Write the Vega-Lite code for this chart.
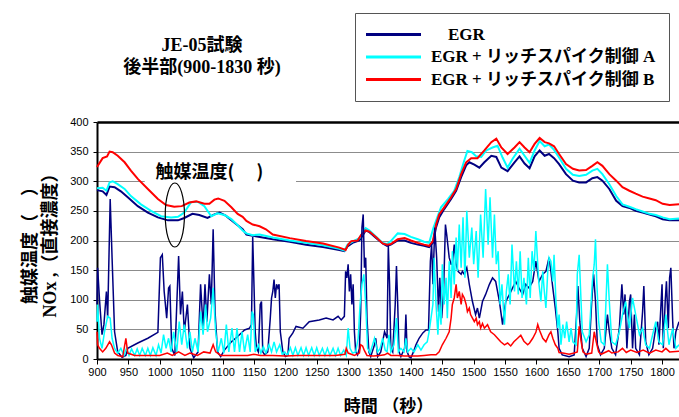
{
"$schema": "https://vega.github.io/schema/vega-lite/v6.json",
"width": 582, "height": 237,
"autosize": "none",
"padding": {"left": 97, "top": 122, "right": 0, "bottom": 58},
"background": "white",
"config": {"view": {"stroke": null}, "font": "Liberation Sans"},
"title": {"text": ["JE-05試験", "後半部(900-1830 秒)"], "anchor": "middle", "dx": -186, "offset": -64, "frame": "group", "font": "Liberation Serif, 'Noto Sans CJK JP'", "fontSize": 18, "fontWeight": "bold", "lineHeight": 22, "color": "black"},
"datasets": {
"noteText": [{"t": 1079, "v": 314, "label": "触媒温度(　 )"}],
"noteEllipse": [{"t": 1024, "v": 243}],
"noteGap": [{"t": 976, "t2": 1217, "v": 296, "v2": 330}],
"egrT": [{"t":900,"v":285},{"t":909,"v":283},{"t":915,"v":277},{"t":920,"v":291},{"t":928,"v":290},{"t":938,"v":283},{"t":949,"v":273},{"t":965,"v":258},{"t":981,"v":247},{"t":997,"v":239},{"t":1013,"v":234},{"t":1029,"v":234},{"t":1039,"v":238},{"t":1052,"v":245},{"t":1063,"v":243},{"t":1076,"v":238},{"t":1087,"v":244},{"t":1095,"v":247},{"t":1105,"v":242},{"t":1119,"v":230},{"t":1132,"v":219},{"t":1138,"v":210},{"t":1148,"v":208},{"t":1180,"v":202},{"t":1207,"v":198},{"t":1233,"v":193},{"t":1260,"v":189},{"t":1286,"v":184},{"t":1294,"v":182},{"t":1299,"v":190},{"t":1307,"v":196},{"t":1318,"v":200},{"t":1328,"v":217},{"t":1334,"v":214},{"t":1345,"v":204},{"t":1355,"v":195},{"t":1362,"v":191},{"t":1368,"v":193},{"t":1379,"v":200},{"t":1390,"v":200},{"t":1400,"v":196},{"t":1411,"v":193},{"t":1421,"v":191},{"t":1429,"v":189},{"t":1435,"v":196},{"t":1440,"v":222},{"t":1445,"v":239},{"t":1453,"v":253},{"t":1464,"v":270},{"t":1472,"v":284},{"t":1480,"v":307},{"t":1488,"v":327},{"t":1493,"v":332},{"t":1501,"v":328},{"t":1509,"v":323},{"t":1517,"v":332},{"t":1528,"v":343},{"t":1536,"v":341},{"t":1544,"v":323},{"t":1554,"v":317},{"t":1565,"v":332},{"t":1573,"v":342},{"t":1581,"v":330},{"t":1589,"v":322},{"t":1597,"v":342},{"t":1605,"v":352},{"t":1613,"v":343},{"t":1620,"v":346},{"t":1628,"v":339},{"t":1636,"v":329},{"t":1647,"v":312},{"t":1658,"v":301},{"t":1668,"v":298},{"t":1679,"v":298},{"t":1689,"v":305},{"t":1697,"v":307},{"t":1705,"v":301},{"t":1716,"v":287},{"t":1727,"v":267},{"t":1737,"v":258},{"t":1748,"v":255},{"t":1758,"v":250},{"t":1769,"v":247},{"t":1780,"v":244},{"t":1790,"v":241},{"t":1801,"v":236},{"t":1812,"v":234},{"t":1827,"v":234}],
"aT": [{"t":900,"v":288},{"t":909,"v":289},{"t":915,"v":284},{"t":920,"v":298},{"t":925,"v":300},{"t":933,"v":295},{"t":944,"v":287},{"t":954,"v":275},{"t":970,"v":261},{"t":986,"v":250},{"t":1002,"v":241},{"t":1018,"v":239},{"t":1029,"v":240},{"t":1039,"v":247},{"t":1050,"v":265},{"t":1061,"v":265},{"t":1071,"v":258},{"t":1082,"v":241},{"t":1092,"v":246},{"t":1103,"v":243},{"t":1114,"v":236},{"t":1124,"v":226},{"t":1132,"v":217},{"t":1138,"v":212},{"t":1148,"v":209},{"t":1159,"v":210},{"t":1180,"v":205},{"t":1207,"v":200},{"t":1233,"v":196},{"t":1260,"v":192},{"t":1286,"v":186},{"t":1294,"v":183},{"t":1299,"v":193},{"t":1307,"v":198},{"t":1318,"v":204},{"t":1328,"v":221},{"t":1334,"v":217},{"t":1345,"v":206},{"t":1355,"v":196},{"t":1362,"v":194},{"t":1368,"v":199},{"t":1379,"v":212},{"t":1390,"v":211},{"t":1400,"v":206},{"t":1411,"v":202},{"t":1421,"v":198},{"t":1429,"v":196},{"t":1436,"v":222},{"t":1442,"v":239},{"t":1448,"v":256},{"t":1459,"v":270},{"t":1469,"v":284},{"t":1477,"v":307},{"t":1485,"v":335},{"t":1490,"v":351},{"t":1497,"v":349},{"t":1504,"v":342},{"t":1512,"v":341},{"t":1520,"v":352},{"t":1530,"v":357},{"t":1538,"v":360},{"t":1546,"v":340},{"t":1554,"v":323},{"t":1562,"v":338},{"t":1573,"v":355},{"t":1581,"v":343},{"t":1589,"v":331},{"t":1597,"v":352},{"t":1605,"v":368},{"t":1613,"v":359},{"t":1620,"v":362},{"t":1628,"v":353},{"t":1636,"v":340},{"t":1647,"v":321},{"t":1658,"v":311},{"t":1668,"v":309},{"t":1679,"v":311},{"t":1689,"v":318},{"t":1697,"v":321},{"t":1705,"v":312},{"t":1716,"v":295},{"t":1727,"v":275},{"t":1737,"v":261},{"t":1748,"v":257},{"t":1758,"v":253},{"t":1769,"v":249},{"t":1780,"v":245},{"t":1790,"v":243},{"t":1801,"v":239},{"t":1812,"v":236},{"t":1827,"v":237}],
"bT": [{"t":900,"v":324},{"t":909,"v":339},{"t":916,"v":342},{"t":920,"v":350},{"t":925,"v":349},{"t":933,"v":343},{"t":944,"v":332},{"t":954,"v":318},{"t":965,"v":304},{"t":981,"v":287},{"t":997,"v":270},{"t":1010,"v":260},{"t":1023,"v":257},{"t":1035,"v":258},{"t":1047,"v":264},{"t":1058,"v":266},{"t":1071,"v":262},{"t":1079,"v":262},{"t":1087,"v":269},{"t":1093,"v":271},{"t":1103,"v":267},{"t":1114,"v":256},{"t":1124,"v":245},{"t":1132,"v":240},{"t":1138,"v":233},{"t":1148,"v":227},{"t":1159,"v":224},{"t":1169,"v":219},{"t":1180,"v":210},{"t":1207,"v":204},{"t":1233,"v":199},{"t":1260,"v":195},{"t":1286,"v":188},{"t":1296,"v":184},{"t":1300,"v":193},{"t":1305,"v":199},{"t":1315,"v":200},{"t":1321,"v":210},{"t":1328,"v":217},{"t":1334,"v":215},{"t":1345,"v":205},{"t":1355,"v":195},{"t":1362,"v":193},{"t":1368,"v":194},{"t":1379,"v":202},{"t":1390,"v":204},{"t":1400,"v":200},{"t":1411,"v":196},{"t":1421,"v":193},{"t":1429,"v":191},{"t":1435,"v":199},{"t":1440,"v":227},{"t":1445,"v":244},{"t":1453,"v":256},{"t":1464,"v":273},{"t":1472,"v":287},{"t":1480,"v":312},{"t":1488,"v":332},{"t":1496,"v":339},{"t":1506,"v":339},{"t":1517,"v":352},{"t":1528,"v":366},{"t":1536,"v":372},{"t":1544,"v":357},{"t":1554,"v":346},{"t":1565,"v":357},{"t":1573,"v":366},{"t":1581,"v":357},{"t":1589,"v":349},{"t":1597,"v":363},{"t":1605,"v":373},{"t":1613,"v":366},{"t":1620,"v":364},{"t":1628,"v":359},{"t":1636,"v":346},{"t":1647,"v":329},{"t":1658,"v":321},{"t":1668,"v":318},{"t":1679,"v":319},{"t":1689,"v":326},{"t":1697,"v":332},{"t":1705,"v":326},{"t":1716,"v":312},{"t":1727,"v":301},{"t":1737,"v":290},{"t":1748,"v":284},{"t":1758,"v":279},{"t":1769,"v":274},{"t":1780,"v":271},{"t":1790,"v":268},{"t":1801,"v":262},{"t":1812,"v":260},{"t":1827,"v":261}],
"egrN": [{"t":900,"v":92},{"t":901,"v":154},{"t":904,"v":100},{"t":908,"v":41},{"t":911,"v":58},{"t":915,"v":114},{"t":917,"v":69},{"t":921,"v":270},{"t":924,"v":171},{"t":928,"v":46},{"t":933,"v":12},{"t":940,"v":3},{"t":946,"v":6},{"t":949,"v":18},{"t":965,"v":27},{"t":981,"v":35},{"t":997,"v":45},{"t":1001,"v":171},{"t":1004,"v":176},{"t":1007,"v":114},{"t":1011,"v":69},{"t":1014,"v":120},{"t":1016,"v":123},{"t":1019,"v":18},{"t":1024,"v":6},{"t":1030,"v":174},{"t":1033,"v":75},{"t":1036,"v":114},{"t":1039,"v":46},{"t":1044,"v":92},{"t":1048,"v":18},{"t":1054,"v":2},{"t":1061,"v":12},{"t":1065,"v":126},{"t":1069,"v":52},{"t":1072,"v":126},{"t":1075,"v":63},{"t":1079,"v":143},{"t":1082,"v":92},{"t":1085,"v":219},{"t":1088,"v":80},{"t":1092,"v":12},{"t":1097,"v":4},{"t":1103,"v":15},{"t":1114,"v":29},{"t":1124,"v":38},{"t":1132,"v":46},{"t":1135,"v":49},{"t":1143,"v":52},{"t":1146,"v":58},{"t":1148,"v":206},{"t":1150,"v":126},{"t":1152,"v":46},{"t":1154,"v":18},{"t":1157,"v":12},{"t":1160,"v":92},{"t":1162,"v":97},{"t":1164,"v":12},{"t":1167,"v":7},{"t":1172,"v":12},{"t":1176,"v":69},{"t":1178,"v":103},{"t":1180,"v":114},{"t":1182,"v":134},{"t":1184,"v":103},{"t":1186,"v":126},{"t":1188,"v":120},{"t":1190,"v":126},{"t":1192,"v":46},{"t":1196,"v":12},{"t":1200,"v":4},{"t":1204,"v":6},{"t":1206,"v":35},{"t":1212,"v":44},{"t":1217,"v":55},{"t":1228,"v":52},{"t":1238,"v":63},{"t":1254,"v":66},{"t":1265,"v":69},{"t":1276,"v":66},{"t":1284,"v":72},{"t":1289,"v":66},{"t":1294,"v":72},{"t":1296,"v":148},{"t":1298,"v":137},{"t":1300,"v":160},{"t":1302,"v":114},{"t":1304,"v":143},{"t":1306,"v":92},{"t":1308,"v":126},{"t":1310,"v":46},{"t":1312,"v":12},{"t":1315,"v":7},{"t":1318,"v":18},{"t":1320,"v":80},{"t":1322,"v":222},{"t":1324,"v":244},{"t":1326,"v":154},{"t":1328,"v":171},{"t":1330,"v":69},{"t":1333,"v":12},{"t":1336,"v":4},{"t":1342,"v":24},{"t":1344,"v":35},{"t":1347,"v":4},{"t":1352,"v":12},{"t":1356,"v":35},{"t":1358,"v":46},{"t":1362,"v":35},{"t":1364,"v":191},{"t":1366,"v":126},{"t":1368,"v":18},{"t":1371,"v":12},{"t":1375,"v":92},{"t":1377,"v":157},{"t":1379,"v":92},{"t":1381,"v":12},{"t":1384,"v":4},{"t":1390,"v":18},{"t":1392,"v":75},{"t":1394,"v":12},{"t":1397,"v":4},{"t":1400,"v":2},{"t":1404,"v":12},{"t":1408,"v":24},{"t":1413,"v":35},{"t":1419,"v":44},{"t":1424,"v":49},{"t":1428,"v":49},{"t":1431,"v":165},{"t":1433,"v":193},{"t":1435,"v":126},{"t":1438,"v":222},{"t":1441,"v":171},{"t":1444,"v":80},{"t":1446,"v":137},{"t":1449,"v":69},{"t":1452,"v":114},{"t":1455,"v":227},{"t":1457,"v":210},{"t":1461,"v":171},{"t":1464,"v":160},{"t":1466,"v":160},{"t":1469,"v":193},{"t":1472,"v":160},{"t":1475,"v":148},{"t":1480,"v":143},{"t":1482,"v":148},{"t":1485,"v":143},{"t":1489,"v":154},{"t":1493,"v":126},{"t":1498,"v":97},{"t":1503,"v":75},{"t":1506,"v":86},{"t":1509,"v":69},{"t":1514,"v":97},{"t":1519,"v":109},{"t":1525,"v":126},{"t":1530,"v":137},{"t":1535,"v":131},{"t":1541,"v":97},{"t":1546,"v":58},{"t":1551,"v":97},{"t":1557,"v":109},{"t":1562,"v":120},{"t":1567,"v":131},{"t":1572,"v":120},{"t":1578,"v":109},{"t":1583,"v":126},{"t":1588,"v":120},{"t":1594,"v":131},{"t":1599,"v":165},{"t":1604,"v":131},{"t":1610,"v":143},{"t":1615,"v":148},{"t":1620,"v":171},{"t":1623,"v":148},{"t":1626,"v":120},{"t":1630,"v":86},{"t":1634,"v":46},{"t":1636,"v":18},{"t":1641,"v":7},{"t":1652,"v":4},{"t":1660,"v":7},{"t":1664,"v":75},{"t":1666,"v":123},{"t":1669,"v":63},{"t":1673,"v":18},{"t":1679,"v":4},{"t":1684,"v":18},{"t":1688,"v":97},{"t":1691,"v":143},{"t":1694,"v":97},{"t":1697,"v":24},{"t":1702,"v":7},{"t":1708,"v":18},{"t":1713,"v":75},{"t":1716,"v":46},{"t":1720,"v":18},{"t":1726,"v":7},{"t":1732,"v":52},{"t":1736,"v":126},{"t":1739,"v":75},{"t":1741,"v":109},{"t":1744,"v":18},{"t":1748,"v":97},{"t":1750,"v":109},{"t":1753,"v":18},{"t":1756,"v":75},{"t":1758,"v":18},{"t":1764,"v":7},{"t":1769,"v":80},{"t":1771,"v":123},{"t":1774,"v":29},{"t":1779,"v":7},{"t":1785,"v":18},{"t":1790,"v":52},{"t":1793,"v":63},{"t":1795,"v":24},{"t":1800,"v":126},{"t":1802,"v":18},{"t":1805,"v":97},{"t":1807,"v":131},{"t":1810,"v":52},{"t":1812,"v":137},{"t":1814,"v":154},{"t":1817,"v":63},{"t":1819,"v":18},{"t":1822,"v":46},{"t":1827,"v":63}],
"aN": [{"t":900,"v":63},{"t":901,"v":92},{"t":904,"v":35},{"t":908,"v":18},{"t":912,"v":46},{"t":917,"v":72},{"t":921,"v":69},{"t":924,"v":35},{"t":928,"v":18},{"t":933,"v":10},{"t":938,"v":18},{"t":943,"v":6},{"t":947,"v":18},{"t":951,"v":6},{"t":955,"v":17},{"t":960,"v":6},{"t":964,"v":17},{"t":968,"v":6},{"t":972,"v":18},{"t":977,"v":6},{"t":981,"v":18},{"t":985,"v":6},{"t":989,"v":19},{"t":994,"v":6},{"t":998,"v":24},{"t":1002,"v":10},{"t":1006,"v":41},{"t":1010,"v":18},{"t":1014,"v":35},{"t":1018,"v":12},{"t":1022,"v":46},{"t":1027,"v":12},{"t":1031,"v":63},{"t":1035,"v":24},{"t":1039,"v":58},{"t":1044,"v":18},{"t":1048,"v":46},{"t":1052,"v":12},{"t":1056,"v":35},{"t":1061,"v":12},{"t":1065,"v":80},{"t":1069,"v":41},{"t":1073,"v":92},{"t":1076,"v":46},{"t":1081,"v":69},{"t":1085,"v":120},{"t":1089,"v":46},{"t":1093,"v":12},{"t":1098,"v":35},{"t":1102,"v":10},{"t":1106,"v":58},{"t":1110,"v":12},{"t":1115,"v":52},{"t":1119,"v":12},{"t":1123,"v":52},{"t":1127,"v":12},{"t":1131,"v":46},{"t":1135,"v":12},{"t":1140,"v":41},{"t":1144,"v":12},{"t":1147,"v":80},{"t":1149,"v":75},{"t":1152,"v":12},{"t":1157,"v":24},{"t":1161,"v":10},{"t":1165,"v":21},{"t":1169,"v":10},{"t":1174,"v":24},{"t":1178,"v":12},{"t":1182,"v":29},{"t":1186,"v":12},{"t":1191,"v":24},{"t":1195,"v":8},{"t":1199,"v":12},{"t":1203,"v":6},{"t":1208,"v":19},{"t":1212,"v":6},{"t":1216,"v":19},{"t":1220,"v":6},{"t":1225,"v":19},{"t":1229,"v":6},{"t":1233,"v":19},{"t":1237,"v":6},{"t":1242,"v":19},{"t":1246,"v":6},{"t":1250,"v":19},{"t":1254,"v":6},{"t":1259,"v":18},{"t":1263,"v":6},{"t":1267,"v":18},{"t":1271,"v":6},{"t":1276,"v":18},{"t":1280,"v":6},{"t":1284,"v":18},{"t":1288,"v":6},{"t":1293,"v":15},{"t":1297,"v":6},{"t":1300,"v":52},{"t":1303,"v":18},{"t":1307,"v":10},{"t":1312,"v":12},{"t":1316,"v":35},{"t":1319,"v":92},{"t":1322,"v":126},{"t":1325,"v":143},{"t":1328,"v":92},{"t":1331,"v":18},{"t":1335,"v":10},{"t":1339,"v":24},{"t":1342,"v":35},{"t":1347,"v":12},{"t":1351,"v":18},{"t":1355,"v":35},{"t":1359,"v":15},{"t":1362,"v":12},{"t":1365,"v":41},{"t":1368,"v":12},{"t":1373,"v":24},{"t":1377,"v":69},{"t":1380,"v":12},{"t":1384,"v":18},{"t":1389,"v":12},{"t":1392,"v":35},{"t":1395,"v":12},{"t":1400,"v":18},{"t":1405,"v":12},{"t":1411,"v":24},{"t":1416,"v":15},{"t":1421,"v":24},{"t":1426,"v":29},{"t":1429,"v":46},{"t":1432,"v":69},{"t":1435,"v":92},{"t":1437,"v":171},{"t":1440,"v":92},{"t":1443,"v":41},{"t":1445,"v":92},{"t":1448,"v":58},{"t":1450,"v":160},{"t":1453,"v":92},{"t":1456,"v":137},{"t":1458,"v":69},{"t":1461,"v":165},{"t":1464,"v":103},{"t":1466,"v":182},{"t":1469,"v":126},{"t":1472,"v":205},{"t":1474,"v":148},{"t":1477,"v":227},{"t":1480,"v":154},{"t":1483,"v":239},{"t":1486,"v":137},{"t":1489,"v":250},{"t":1493,"v":171},{"t":1497,"v":222},{"t":1500,"v":160},{"t":1504,"v":216},{"t":1507,"v":137},{"t":1511,"v":244},{"t":1515,"v":171},{"t":1519,"v":287},{"t":1523,"v":193},{"t":1526,"v":273},{"t":1530,"v":171},{"t":1533,"v":244},{"t":1536,"v":160},{"t":1539,"v":182},{"t":1542,"v":92},{"t":1545,"v":126},{"t":1549,"v":58},{"t":1552,"v":114},{"t":1555,"v":143},{"t":1558,"v":92},{"t":1561,"v":193},{"t":1565,"v":114},{"t":1568,"v":165},{"t":1571,"v":109},{"t":1574,"v":182},{"t":1577,"v":103},{"t":1580,"v":137},{"t":1584,"v":92},{"t":1587,"v":171},{"t":1590,"v":103},{"t":1593,"v":182},{"t":1596,"v":148},{"t":1599,"v":216},{"t":1602,"v":160},{"t":1604,"v":126},{"t":1607,"v":97},{"t":1610,"v":148},{"t":1612,"v":120},{"t":1615,"v":86},{"t":1618,"v":148},{"t":1620,"v":171},{"t":1623,"v":165},{"t":1626,"v":131},{"t":1628,"v":176},{"t":1631,"v":97},{"t":1634,"v":52},{"t":1636,"v":75},{"t":1639,"v":24},{"t":1642,"v":58},{"t":1645,"v":35},{"t":1648,"v":63},{"t":1652,"v":29},{"t":1655,"v":52},{"t":1658,"v":29},{"t":1663,"v":24},{"t":1665,"v":143},{"t":1668,"v":176},{"t":1671,"v":97},{"t":1673,"v":46},{"t":1679,"v":29},{"t":1684,"v":41},{"t":1689,"v":131},{"t":1692,"v":160},{"t":1694,"v":202},{"t":1696,"v":131},{"t":1699,"v":63},{"t":1703,"v":29},{"t":1708,"v":24},{"t":1713,"v":160},{"t":1716,"v":97},{"t":1720,"v":29},{"t":1726,"v":24},{"t":1732,"v":46},{"t":1737,"v":75},{"t":1742,"v":97},{"t":1748,"v":52},{"t":1753,"v":103},{"t":1758,"v":75},{"t":1764,"v":41},{"t":1769,"v":52},{"t":1774,"v":24},{"t":1780,"v":18},{"t":1785,"v":41},{"t":1790,"v":63},{"t":1795,"v":29},{"t":1801,"v":24},{"t":1806,"v":75},{"t":1811,"v":24},{"t":1817,"v":52},{"t":1822,"v":18},{"t":1827,"v":24}],
"bN": [{"t":900,"v":46},{"t":901,"v":24},{"t":904,"v":18},{"t":909,"v":12},{"t":914,"v":18},{"t":920,"v":29},{"t":923,"v":24},{"t":928,"v":10},{"t":933,"v":6},{"t":941,"v":4},{"t":946,"v":35},{"t":949,"v":10},{"t":960,"v":6},{"t":980,"v":6},{"t":1000,"v":6},{"t":1012,"v":10},{"t":1020,"v":6},{"t":1030,"v":12},{"t":1040,"v":6},{"t":1048,"v":10},{"t":1060,"v":6},{"t":1070,"v":12},{"t":1080,"v":10},{"t":1085,"v":24},{"t":1089,"v":12},{"t":1097,"v":6},{"t":1110,"v":6},{"t":1125,"v":6},{"t":1140,"v":6},{"t":1150,"v":8},{"t":1160,"v":6},{"t":1180,"v":6},{"t":1200,"v":5},{"t":1220,"v":6},{"t":1240,"v":6},{"t":1260,"v":6},{"t":1280,"v":6},{"t":1295,"v":8},{"t":1297,"v":18},{"t":1300,"v":10},{"t":1310,"v":6},{"t":1318,"v":10},{"t":1320,"v":24},{"t":1323,"v":22},{"t":1326,"v":14},{"t":1330,"v":6},{"t":1340,"v":5},{"t":1350,"v":6},{"t":1358,"v":7},{"t":1363,"v":10},{"t":1368,"v":6},{"t":1379,"v":6},{"t":1390,"v":5},{"t":1400,"v":5},{"t":1411,"v":5},{"t":1421,"v":6},{"t":1432,"v":7},{"t":1440,"v":7},{"t":1445,"v":12},{"t":1450,"v":24},{"t":1456,"v":35},{"t":1461,"v":46},{"t":1464,"v":69},{"t":1466,"v":92},{"t":1469,"v":103},{"t":1472,"v":126},{"t":1474,"v":103},{"t":1477,"v":114},{"t":1480,"v":92},{"t":1482,"v":109},{"t":1485,"v":103},{"t":1488,"v":92},{"t":1490,"v":80},{"t":1493,"v":86},{"t":1495,"v":75},{"t":1498,"v":69},{"t":1501,"v":63},{"t":1504,"v":69},{"t":1506,"v":58},{"t":1509,"v":63},{"t":1511,"v":52},{"t":1514,"v":60},{"t":1517,"v":52},{"t":1522,"v":58},{"t":1527,"v":46},{"t":1533,"v":41},{"t":1538,"v":35},{"t":1543,"v":29},{"t":1549,"v":24},{"t":1554,"v":27},{"t":1559,"v":22},{"t":1564,"v":29},{"t":1570,"v":35},{"t":1575,"v":40},{"t":1580,"v":30},{"t":1586,"v":24},{"t":1589,"v":27},{"t":1594,"v":35},{"t":1599,"v":45},{"t":1602,"v":58},{"t":1605,"v":48},{"t":1610,"v":35},{"t":1615,"v":29},{"t":1620,"v":41},{"t":1623,"v":46},{"t":1626,"v":35},{"t":1630,"v":24},{"t":1634,"v":18},{"t":1636,"v":11},{"t":1642,"v":10},{"t":1652,"v":8},{"t":1660,"v":10},{"t":1665,"v":12},{"t":1668,"v":55},{"t":1671,"v":30},{"t":1674,"v":12},{"t":1679,"v":8},{"t":1688,"v":10},{"t":1692,"v":46},{"t":1695,"v":30},{"t":1699,"v":12},{"t":1703,"v":8},{"t":1715,"v":14},{"t":1720,"v":10},{"t":1730,"v":12},{"t":1737,"v":18},{"t":1743,"v":11},{"t":1750,"v":15},{"t":1760,"v":11},{"t":1770,"v":15},{"t":1780,"v":10},{"t":1790,"v":15},{"t":1800,"v":12},{"t":1806,"v":18},{"t":1812,"v":12},{"t":1827,"v":13}]
},
"encoding": {
"x": {"field": "t", "type": "quantitative", "scale": {"domain": [900, 1827], "nice": false, "zero": false},
  "axis": {"values": [900,950,1000,1050,1100,1150,1200,1250,1300,1350,1400,1450,1500,1550,1600,1650,1700,1750,1800], "format": "d", "title": "時間 （秒）", "grid": false, "domainColor": "black", "domainWidth": 2, "tickColor": "black", "tickSize": 5, "labelFont": "Liberation Sans", "labelFontSize": 11, "labelColor": "black", "labelPadding": 2, "labelFlush": false, "labelOverlap": false, "titleFont": "Liberation Sans, 'Noto Sans CJK JP'", "titleFontSize": 17, "titleFontWeight": "bold", "titleColor": "black", "titlePadding": 21}},
"y": {"field": "v", "type": "quantitative", "scale": {"domain": [0, 400], "nice": false},
  "axis": {"values": [0,50,100,150,200,250,300,350,400], "title": ["触媒温度（　）", "NOx ,（直接濃度）"], "grid": true,
    "gridColor": {"condition": {"test": "datum.value == 400", "value": "black"}, "value": "#8c8c8c"},
    "gridWidth": {"condition": {"test": "datum.value == 400", "value": 2.5}, "value": 1},
    "domainColor": "black", "domainWidth": 2, "tickColor": "black", "tickSize": 4, "labelFont": "Liberation Sans", "labelFontSize": 11, "labelColor": "black", "labelPadding": 5, "titleFont": "Liberation Serif, 'Noto Sans CJK JP'", "titleFontSize": 18, "titleFontWeight": "bold", "titleColor": "black", "titleLineHeight": 20, "titlePadding": 10}}
},
"layer": [
{"data": {"name": "noteGap"}, "mark": {"type": "rect", "fill": "white"}, "encoding": {"x2": {"field": "t2"}, "y2": {"field": "v2"}}},
{"data": {"name": "egrT"}, "mark": {"type": "line", "strokeWidth": 2}, "encoding": {"color": {"datum": "EGR", "type": "nominal",
  "scale": {"domain": ["EGR", "EGR + リッチスパイク制御 A", "EGR + リッチスパイク制御 B"], "range": ["#000080", "#00FFFF", "#FF0000"]},
  "legend": {"orient": "none", "legendX": 258, "legendY": -109, "title": null, "symbolType": "M-2.1,0H8.9", "symbolSize": 100, "symbolStrokeWidth": 3, "labelFont": "Liberation Serif, 'Noto Sans CJK JP'", "labelFontWeight": "bold", "labelFontSize": 17, "labelColor": "black", "labelOffset": 46, "labelLimit": 500, "fillColor": "white", "strokeColor": "#555555", "padding": 13, "rowPadding": 4.5, "labelExpr": "datum.label == 'EGR' ? '\\u200b\\u3000EGR' : datum.label + '\\u3000\\u3000'"}}}},
{"data": {"name": "aT"}, "mark": {"type": "line", "strokeWidth": 2}, "encoding": {"color": {"datum": "EGR + リッチスパイク制御 A", "type": "nominal"}}},
{"data": {"name": "bT"}, "mark": {"type": "line", "strokeWidth": 2}, "encoding": {"color": {"datum": "EGR + リッチスパイク制御 B", "type": "nominal"}}},
{"data": {"name": "egrN"}, "mark": {"type": "line", "strokeWidth": 1.5}, "encoding": {"color": {"datum": "EGR", "type": "nominal"}}},
{"data": {"name": "aN"}, "mark": {"type": "line", "strokeWidth": 1.5}, "encoding": {"color": {"datum": "EGR + リッチスパイク制御 A", "type": "nominal"}}},
{"data": {"name": "bN"}, "mark": {"type": "line", "strokeWidth": 1.5}, "encoding": {"color": {"datum": "EGR + リッチスパイク制御 B", "type": "nominal"}}},
{"data": {"name": "noteText"}, "mark": {"type": "text", "font": "'Noto Sans CJK JP'", "fontSize": 18, "fontWeight": "bold", "align": "center", "baseline": "middle", "color": "black"}, "encoding": {"text": {"field": "label"}}},
{"data": {"name": "noteEllipse"}, "mark": {"type": "point", "shape": "M0,-1A0.3,1,0,0,1,0,1A0.3,1,0,0,1,0,-1Z", "size": 4096, "filled": false, "color": "black", "strokeWidth": 1.2, "opacity": 1}}
]
}
